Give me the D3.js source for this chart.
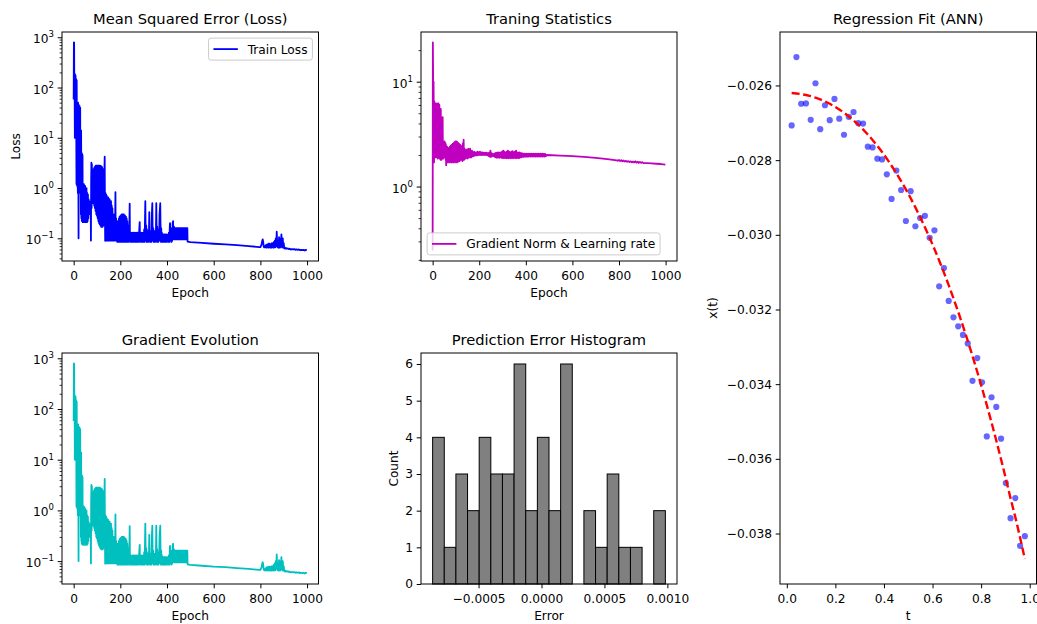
<!DOCTYPE html>
<html><head><meta charset="utf-8">
<script src="https://cdn.jsdelivr.net/npm/d3@7"></script>
<style>
body{margin:0;background:#fff}
svg{display:block}
text{font-family:"DejaVu Sans",sans-serif;fill:#000}
</style></head>
<body><svg id="chart" width="1037" height="624"></svg>
<script>
// ---------------- DATA ----------------
const lossHistory = [
[0,58],[1,790],[2,780],[3,60],[4,190],[5,10],[6,180],[7,60],[8,175],[9,12],[10,150],[11,25],[12,1.2],[13,140],[14,9],[15,1.1],[16,30],[17,1.5],[18,0.8],[19,50],[20,4],[21,0.1],[22,45],[23,1.2],[24,0.9],[25,43],[26,3],[27,0.8],[28,40],[29,1],[30,12],[31,0.3],[32,14],[33,0.25],[34,5],[35,0.22],[36,4.8],[37,0.3],[38,4.5],[39,0.21],[40,1.2],[41,0.22],[42,1.1],[43,0.25],[44,1.2],[45,0.21],[46,1.0],[48,0.22],[49,1.1],[51,0.21],[52,0.9],[54,0.22],[55,1.0],[57,0.21],[58,0.8],[60,0.22],[61,0.75],[63,0.25],[64,0.6],[66,0.3],[67,0.55],[69,0.32],[70,0.5],[72,0.35],[73,0.45],[74,0.09],[75,1.5],[76,3.2],[77,0.4],[78,3.0],[79,0.6],[80,2.2],[82,0.5],[83,2.2],[85,0.5],[86,2.4],[88,0.45],[89,2.6],[91,0.4],[92,2.7],[94,0.35],[95,2.8],[97,0.3],[98,2.8],[100,0.28],[101,2.8],[103,0.25],[104,2.8],[106,0.22],[107,2.8],[109,0.2],[110,2.8],[112,0.19],[113,2.8],[115,0.18],[116,2.75],[118,0.17],[119,2.7],[121,0.17],[122,2.6],[124,0.17],[125,2.4],[127,0.18],[128,2.0],[130,0.2],[131,1.5],[133,4.2],[134,0.3],[135,0.089],[136,0.8],[138,0.1],[139,0.75],[141,0.09],[142,0.7],[144,0.1],[145,0.6],[147,0.09],[148,0.65],[150,0.1],[151,0.55],[153,0.09],[154,0.6],[156,0.1],[157,0.5],[159,0.09],[160,0.55],[162,0.1],[163,0.45],[165,0.09],[166,0.4],[168,0.1],[169,0.3],[171,0.09],[172,0.3],[174,0.1],[175,0.25],[177,0.09],[179,0.83],[180,0.12],[182,0.25],[184,0.09],[185,0.22],[187,0.085],[188,0.2],[190,0.09],[191,0.22],[193,0.085],[194,0.25],[196,0.09],[197,0.27],[199,0.085],[200,0.28],[202,0.09],[203,0.29],[205,0.085],[206,0.3],[208,0.09],[209,0.3],[211,0.085],[212,0.3],[214,0.09],[215,0.3],[217,0.085],[218,0.29],[220,0.09],[221,0.28],[223,0.085],[224,0.27],[226,0.09],[227,0.25],[229,0.085],[230,0.22],[232,0.09],[233,0.18],[235,0.085],[236,0.15],[238,0.09],[240,0.49],[241,0.12],[243,0.085],[244,0.13],[246,0.085],[247,0.12],[249,0.09],[250,0.13],[252,0.085],[253,0.12],[255,0.085],[256,0.13],[258,0.09],[259,0.12],[261,0.085],[262,0.13],[264,0.09],[265,0.12],[267,0.085],[268,0.13],[270,0.09],[271,0.12],[273,0.085],[274,0.13],[276,0.09],[277,0.12],[279,0.085],[281,0.15],[283,0.21],[284,0.1],[286,0.085],[287,0.13],[289,0.09],[290,0.12],[292,0.085],[293,0.13],[295,0.09],[296,0.12],[298,0.085],[299,0.13],[301,0.09],[302,0.15],[304,0.085],[306,0.3],[307,0.55],[308,0.2],[310,0.09],[311,0.18],[313,0.085],[314,0.15],[316,0.09],[317,0.13],[319,0.085],[320,0.14],[322,0.09],[324,0.33],[325,0.12],[327,0.085],[328,0.14],[330,0.09],[331,0.13],[333,0.085],[335,0.3],[337,0.5],[338,0.18],[340,0.09],[341,0.16],[343,0.085],[344,0.14],[346,0.09],[347,0.13],[349,0.085],[350,0.14],[352,0.09],[354,0.5],[355,0.2],[357,0.085],[358,0.17],[360,0.09],[361,0.15],[363,0.085],[364,0.14],[366,0.09],[368,0.3],[371,0.5],[372,0.2],[374,0.085],[375,0.16],[377,0.09],[378,0.13],[380,0.085],[381,0.12],[383,0.09],[384,0.12],[386,0.085],[387,0.12],[389,0.09],[390,0.12],[392,0.085],[393,0.12],[395,0.09],[396,0.11],[398,0.085],[399,0.12],[401,0.09],[402,0.11],[404,0.085],[405,0.12],[407,0.09],[408,0.13],[410,0.085],[412,0.18],[413,0.2],[414,0.1],[416,0.09],[417,0.15],[419,0.085],[420,0.16],[422,0.09],[424,0.2],[426,0.22],[427,0.12],[429,0.095],[430,0.17],[432,0.095],[433,0.16],[435,0.095],[436,0.16],[438,0.095],[439,0.16],[441,0.095],[442,0.16],[444,0.095],[445,0.16],[447,0.095],[448,0.16],[450,0.095],[451,0.16],[453,0.095],[454,0.16],[456,0.095],[457,0.16],[459,0.095],[460,0.16],[462,0.095],[463,0.16],[465,0.095],[466,0.16],[468,0.095],[469,0.16],[471,0.095],[472,0.16],[474,0.095],[475,0.16],[477,0.095],[478,0.16],[480,0.095],[481,0.16],[483,0.095],[484,0.16],[486,0.095],[487,0.16],[488,0.086],
[500,0.084],[550,0.081],[600,0.078],[650,0.076],[700,0.073],[750,0.07],[795,0.067],[800,0.067],[802,0.07],[805,0.075],[808,0.09],[810,0.095],[812,0.085],[814,0.07],[816,0.066],[820,0.066],[822,0.072],[824,0.066],[826,0.075],[828,0.065],[830,0.075],[832,0.066],[834,0.078],[836,0.065],[838,0.078],[840,0.066],[842,0.076],[844,0.065],[846,0.078],[848,0.065],[850,0.08],[852,0.066],[854,0.08],[856,0.065],[858,0.085],[860,0.066],[862,0.09],[864,0.066],[866,0.1],[868,0.07],[870,0.135],[872,0.08],[874,0.066],[876,0.09],[878,0.065],[880,0.105],[882,0.07],[884,0.065],[886,0.1],[888,0.068],[890,0.12],[892,0.07],[894,0.066],[896,0.1],[898,0.065],[900,0.08],[902,0.064],[904,0.066],[906,0.062],[910,0.064],[914,0.062],[918,0.063],[922,0.061],[926,0.062],[930,0.06],[935,0.061],[940,0.06],[945,0.061],[950,0.059],[955,0.06],[960,0.059],[965,0.06],[970,0.058],[975,0.059],[980,0.058],[985,0.059],[990,0.057],[995,0.059],[999,0.058]
];
// the "Gradient Evolution" panel shows the same history as the loss panel
const gradEvolution = lossHistory;

const gradNormHistory = [
[0,0.245],[1,23.7],[2,12],[3,1.7],[4,10],[5,4.5],[6,1.7],[7,6.5],[8,2],[9,6.2],[10,1.9],[11,5],[12,1.9],[13,6.2],[14,2.2],[15,6],[16,1.9],[17,5.5],[18,1.9],[19,6.2],[20,2],[21,6],[22,1.85],[23,5.8],[24,2],[25,6.2],[26,1.9],[27,5],[28,2.1],[29,6],[30,1.85],[31,5.5],[32,2],[33,4.5],[34,1.8],[35,5.5],[36,2],[37,3],[38,1.8],[39,4.5],[40,1.9],[41,3],[42,1.85],[43,4.6],[44,2],[45,2.6],[46,1.85],[47,2.7],[48,1.9],[49,2.6],[50,1.9],[51,2.7],[52,1.95],[53,2.5],[54,1.9],[55,2.6],[56,1.8],[57,2.5],[58,1.6],[59,2.4],[60,1.9],[62,2.4],[64,1.7],[66,2.3],[68,1.75],[70,2.35],[72,1.7],[74,2.4],[76,1.72],[78,2.45],[80,1.7],[82,2.5],[84,1.72],[86,2.55],[88,1.7],[90,2.6],[92,1.72],[94,2.65],[96,1.7],[98,2.7],[100,1.72],[102,2.7],[104,1.7],[106,2.65],[108,1.72],[110,2.6],[112,1.75],[114,2.55],[116,1.75],[118,2.5],[120,1.8],[122,2.45],[124,1.8],[126,2.4],[128,1.75],[130,2.6],[132,1.8],[133,2.8],[135,1.8],[137,2.3],[139,1.85],[141,2.2],[143,1.85],[145,2.25],[147,1.9],[149,2.2],[151,1.85],[153,2.3],[155,1.9],[157,2.15],[159,1.9],[161,2.3],[163,1.9],[165,2.15],[167,1.9],[169,2.2],[171,1.95],[173,2.1],[176,1.95],[178,2.15],[181,1.97],[183,2.12],[186,1.98],[188,2.12],[191,1.98],[193,2.15],[196,2],[198,2.12],[201,2],[203,2.15],[206,2],[208,2.12],[211,2],[213,2.12],[216,2],[218,2.1],[221,2],[223,2.1],[226,2],[228,2.1],[231,2.0],[233,2.1],[236,1.98],[238,2.08],[241,1.95],[243,2.1],[246,1.92],[248,2.2],[251,1.92],[253,2.08],[256,1.95],[258,2.05],[261,1.95],[263,2.05],[266,1.92],[268,2.08],[271,1.9],[273,2.1],[276,1.88],[278,2.1],[281,1.9],[283,2.12],[286,1.88],[288,2.1],[291,1.9],[293,2.12],[296,1.88],[298,2.15],[301,1.87],[303,2.2],[306,1.86],[308,2.15],[311,1.88],[313,2.1],[316,1.86],[318,2.15],[321,1.87],[323,2.2],[326,1.86],[328,2.15],[331,1.88],[333,2.12],[336,1.86],[338,2.15],[341,1.88],[343,2.18],[346,1.86],[348,2.12],[351,1.88],[353,2.15],[356,1.87],[358,2.2],[361,1.86],[363,2.12],[366,1.88],[368,2.1],[371,1.86],[373,2.12],[376,1.9],[378,2.08],[381,1.9],[383,2.08],[386,1.92],[388,2.06],[391,1.92],[393,2.06],[396,1.93],[398,2.05],[401,1.93],[403,2.06],[406,1.93],[408,2.05],[411,1.93],[413,2.06],[416,1.94],[418,2.05],[421,1.93],[423,2.06],[426,1.94],[428,2.05],[431,1.93],[433,2.06],[436,1.94],[438,2.05],[441,1.93],[443,2.06],[446,1.94],[448,2.05],[451,1.93],[453,2.06],[456,1.94],[458,2.05],[461,1.93],[463,2.06],[466,1.94],[468,2.05],[471,1.93],[473,2.06],[476,1.94],[478,2.05],[481,1.93],[483,2.05],[486,1.95],[490,2.0],
[550,1.97],[600,1.95],[650,1.92],[700,1.88],[750,1.83],[790,1.78],[795,1.76],[800,1.79],[805,1.75],[810,1.78],[815,1.74],[820,1.77],[825,1.73],[830,1.76],[835,1.72],[840,1.75],[845,1.71],[850,1.74],[855,1.7],[860,1.73],[865,1.7],[870,1.74],[875,1.69],[880,1.73],[885,1.68],[890,1.72],[895,1.68],[900,1.71],[905,1.67],[920,1.67],[940,1.66],[960,1.65],[980,1.64],[999,1.62]
];

const errorCounts = [4,1,3,2,4,3,3,6,2,4,2,6,0,2,1,3,1,1,0,2];
const errorRange = [-0.000865, 0.000984];
const errorTicks = [-0.0005, 0, 0.0005, 0.001];
const countTicks = [0,1,2,3,4,5,6];

const tValues = [0.0200,0.0396,0.0592,0.0788,0.0984,0.1180,0.1376,0.1571,0.1767,0.1963,0.2159,0.2355,0.2551,0.2747,0.2943,0.3139,0.3335,0.3531,0.3727,0.3922,0.4118,0.4314,0.4510,0.4706,0.4902,0.5098,0.5294,0.5490,0.5686,0.5882,0.6078,0.6273,0.6469,0.6665,0.6861,0.7057,0.7253,0.7449,0.7645,0.7841,0.8037,0.8233,0.8429,0.8624,0.8820,0.9016,0.9212,0.9408,0.9604,0.9800];
const xObserved = [-0.02707,-0.02524,-0.02649,-0.02648,-0.02692,-0.02594,-0.02717,-0.02653,-0.02693,-0.02636,-0.02689,-0.02732,-0.02684,-0.02671,-0.02701,-0.02702,-0.02764,-0.02766,-0.02796,-0.02798,-0.02838,-0.02904,-0.02828,-0.02880,-0.02963,-0.02883,-0.02977,-0.02955,-0.02949,-0.03008,-0.02988,-0.03138,-0.03089,-0.03177,-0.03221,-0.03245,-0.03268,-0.03291,-0.03391,-0.03330,-0.03395,-0.03540,-0.03435,-0.03461,-0.03546,-0.03665,-0.03759,-0.03705,-0.03833,-0.03807];
const xPredicted = [-0.026203,-0.026214,-0.026231,-0.026255,-0.026286,-0.026325,-0.026372,-0.026427,-0.026489,-0.026561,-0.026641,-0.026729,-0.026827,-0.026934,-0.027051,-0.027177,-0.027313,-0.027460,-0.027616,-0.027783,-0.027961,-0.028150,-0.028350,-0.028561,-0.028784,-0.029019,-0.029266,-0.029525,-0.029797,-0.030081,-0.030379,-0.030687,-0.031011,-0.031348,-0.031699,-0.032064,-0.032443,-0.032837,-0.033245,-0.033668,-0.034106,-0.034559,-0.035028,-0.035510,-0.036010,-0.036527,-0.037059,-0.037560,-0.038110,-0.038680];

const epochTicks = [0,200,400,600,800,1000];
const tTicks = [0,0.2,0.4,0.6,0.8,1.0];
const xtTicks = [-0.038,-0.036,-0.034,-0.032,-0.030,-0.028,-0.026];

// ---------------- LAYOUT / STYLE ----------------
const FONT = 12.2, TFONT = 14.7;
const panels = {
  loss:  {x0:62,  x1:318.5,  y0:32, y1:261},
  stats: {x0:421, x1:677,    y0:32, y1:261},
  grad:  {x0:62,  x1:318.5,  y0:353, y1:584},
  hist:  {x0:421, x1:677,    y0:353, y1:584},
  reg:   {x0:780, x1:1036.5, y0:32, y1:584}
};
const svg = d3.select("#chart");

function logDomain(vals){
  const lo = Math.log10(d3.min(vals)), hi = Math.log10(d3.max(vals)), m = (hi-lo)*0.05;
  return [Math.pow(10, lo-m), Math.pow(10, hi+m)];
}
function linDomain(vals){
  const lo = d3.min(vals), hi = d3.max(vals), m = (hi-lo)*0.05;
  return [lo-m, hi+m];
}
function styleAxis(g){
  g.select(".domain").remove();
  g.attr("font-size", FONT).attr("font-family", "DejaVu Sans, sans-serif");
  g.selectAll(".tick line").attr("stroke", "#000").attr("stroke-width", 1);
  g.selectAll(".tick text").attr("fill", "#000");
}
function xAxis(p, scale, ticks, fmt){
  const g = svg.append("g").attr("transform", `translate(0,${p.y1})`)
    .call(d3.axisBottom(scale).tickValues(ticks).tickFormat(fmt).tickSize(4.3).tickPadding(6.5));
  styleAxis(g);
}
function yAxis(p, scale, ticks, fmt){
  const g = svg.append("g").attr("transform", `translate(${p.x0},0)`)
    .call(d3.axisLeft(scale).tickValues(ticks).tickFormat(fmt).tickSize(4.3).tickPadding(3.8));
  styleAxis(g);
}
function logYAxis(p, scale){
  const [a, b] = scale.domain();
  const majors = [], minors = [];
  for (let e = Math.floor(Math.log10(a)); e <= Math.ceil(Math.log10(b)); e++){
    const v = Math.pow(10, e);
    if (v >= a && v <= b) majors.push(v);
    for (let k = 2; k <= 9; k++){ const w = k*v; if (w >= a && w <= b) minors.push(w); }
  }
  const gm = svg.append("g").attr("transform", `translate(${p.x0},0)`)
    .call(d3.axisLeft(scale).tickValues(minors).tickFormat("").tickSize(2.4));
  styleAxis(gm);
  gm.selectAll(".tick line").attr("stroke-width", 0.8);
  const g = svg.append("g").attr("transform", `translate(${p.x0},0)`)
    .call(d3.axisLeft(scale).tickValues(majors).tickFormat("").tickSize(4.3).tickPadding(3.8));
  styleAxis(g);
  g.selectAll(".tick text").each(function(d){
    const e = Math.round(Math.log10(d));
    const t = d3.select(this).attr("dy", "0.45em");
    t.append("tspan").text("10");
    t.append("tspan").attr("dy", -6).attr("font-size", FONT*0.7).text(e < 0 ? "\u2212" + (-e) : String(e));
  });
}
function frame(p){
  svg.append("rect").attr("x", p.x0).attr("y", p.y0).attr("width", p.x1-p.x0).attr("height", p.y1-p.y0)
    .attr("fill", "none").attr("stroke", "#000").attr("stroke-width", 1);
}
function title(p, s){
  svg.append("text").attr("x", (p.x0+p.x1)/2).attr("y", p.y0-8).attr("text-anchor", "middle")
    .attr("font-size", TFONT).text(s);
}
function xLabel(p, s){
  svg.append("text").attr("x", (p.x0+p.x1)/2).attr("y", p.y1+35.5).attr("text-anchor", "middle")
    .attr("font-size", FONT).text(s);
}
function yLabel(p, s, x){
  svg.append("text").attr("transform", `translate(${x},${(p.y0+p.y1)/2}) rotate(-90)`)
    .attr("text-anchor", "middle").attr("font-size", FONT).text(s);
}
function legend(p, label, color, corner){
  const g = svg.append("g");
  const pad = 4.9, hl = 24.4, htp = 9.8, h = 22;
  const txt = g.append("text").attr("font-size", FONT).text(label);
  const tw = txt.node().getComputedTextLength();
  const w = pad + hl + htp + tw + pad;
  const x = corner === "ur" ? p.x1 - 6.1 - w : p.x0 + 6.1;
  const y = corner === "ur" ? p.y0 + 6.1 : p.y1 - 6.1 - h;
  g.insert("rect", "text").attr("x", x).attr("y", y).attr("width", w).attr("height", h).attr("rx", 2.5)
    .attr("fill", "#fff").attr("fill-opacity", 0.8).attr("stroke", "#ccc").attr("stroke-width", 1);
  g.append("line").attr("x1", x+pad).attr("x2", x+pad+hl).attr("y1", y+h/2).attr("y2", y+h/2)
    .attr("stroke", color).attr("stroke-width", 1.8);
  txt.attr("x", x+pad+hl+htp).attr("y", y+h/2+4.4);
}
function clip(id, p){
  svg.append("clipPath").attr("id", id).append("rect")
    .attr("x", p.x0).attr("y", p.y0).attr("width", p.x1-p.x0).attr("height", p.y1-p.y0);
  return `url(#${id})`;
}

// ---------------- HISTORY PANELS ----------------
function historyPanel(p, data, color, id){
  const x = d3.scaleLinear().domain(linDomain(data.map(d => d[0]))).range([p.x0, p.x1]);
  const y = d3.scaleLog().domain(logDomain(data.map(d => d[1]))).range([p.y1, p.y0]);
  svg.append("path").datum(data).attr("clip-path", clip(id, p))
    .attr("d", d3.line().x(d => x(d[0])).y(d => y(d[1])))
    .attr("fill", "none").attr("stroke", color).attr("stroke-width", 1.8).attr("stroke-linejoin", "round");
  xAxis(p, x, epochTicks, d3.format("d"));
  logYAxis(p, y);
  frame(p);
}
historyPanel(panels.loss, lossHistory, "#0000ff", "c1");
title(panels.loss, "Mean Squared Error (Loss)");
xLabel(panels.loss, "Epoch");
yLabel(panels.loss, "Loss", 19.5);
legend(panels.loss, "Train Loss", "#0000ff", "ur");

historyPanel(panels.stats, gradNormHistory, "#bf00bf", "c2");
title(panels.stats, "Traning Statistics");
xLabel(panels.stats, "Epoch");
legend(panels.stats, "Gradient Norm & Learning rate", "#bf00bf", "ll");

historyPanel(panels.grad, gradEvolution, "#00bfbf", "c3");
title(panels.grad, "Gradient Evolution");
xLabel(panels.grad, "Epoch");

// ---------------- HISTOGRAM ----------------
{
  const p = panels.hist;
  const bw = (errorRange[1]-errorRange[0]) / errorCounts.length;
  const bins = errorCounts.map((c, i) => ({x0: errorRange[0] + i*bw, x1: errorRange[0] + (i+1)*bw, c}));
  const x = d3.scaleLinear().domain(linDomain(errorRange)).range([p.x0, p.x1]);
  const y = d3.scaleLinear().domain([0, d3.max(errorCounts)*1.05]).range([p.y1, p.y0]);
  svg.append("g").selectAll("rect").data(bins.filter(b => b.c > 0)).join("rect")
    .attr("x", b => x(b.x0)).attr("width", b => x(b.x1)-x(b.x0))
    .attr("y", b => y(b.c)).attr("height", b => y(0)-y(b.c))
    .attr("fill", "#808080").attr("stroke", "#000").attr("stroke-width", 1);
  xAxis(p, x, errorTicks, d3.format(".4f"));
  yAxis(p, y, countTicks, d3.format("d"));
  frame(p);
  title(p, "Prediction Error Histogram");
  xLabel(p, "Error");
  yLabel(p, "Count", 397.5);
}

// ---------------- REGRESSION ----------------
{
  const p = panels.reg;
  const x = d3.scaleLinear().domain(linDomain(tValues)).range([p.x0, p.x1]);
  const y = d3.scaleLinear().domain(linDomain(xObserved.concat(xPredicted))).range([p.y1, p.y0]);
  const pts = tValues.map((t, i) => ({t, v: xObserved[i], f: xPredicted[i]}));
  svg.append("g").selectAll("circle").data(pts).join("circle")
    .attr("cx", d => x(d.t)).attr("cy", d => y(d.v)).attr("r", 3.1)
    .attr("fill", "#0000ff").attr("fill-opacity", 0.6);
  svg.append("path").datum(pts)
    .attr("d", d3.line().x(d => x(d.t)).y(d => y(d.f)))
    .attr("fill", "none").attr("stroke", "#ff0000").attr("stroke-width", 2.4).attr("stroke-dasharray", "8,3.6");
  xAxis(p, x, tTicks, d3.format(".1f"));
  yAxis(p, y, xtTicks, d3.format(".3f"));
  frame(p);
  title(p, "Regression Fit (ANN)");
  xLabel(p, "t");
  yLabel(p, "x(t)", 717);
}
</script></body></html>
